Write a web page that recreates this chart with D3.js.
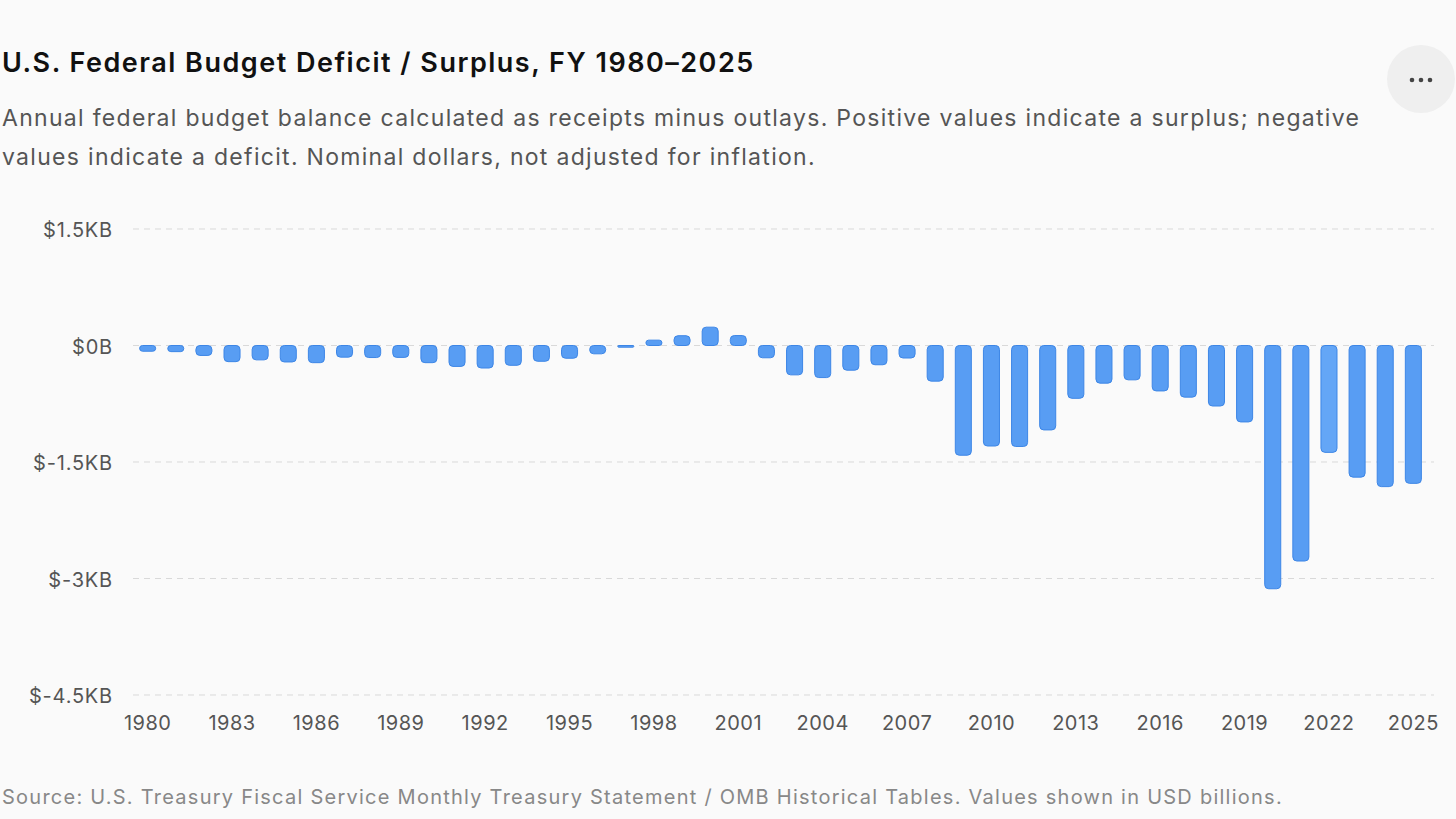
<!DOCTYPE html>
<html><head><meta charset="utf-8">
<script src="https://cdn.jsdelivr.net/npm/d3@7"></script>
<style>body{margin:0;background:#fafafa;font-family:Inter,"Noto Sans",sans-serif}</style>
</head><body><svg id="c" width="1456" height="819"></svg>
<script>
const years = d3.range(1980, 2026);
const balances = [-74,-79,-128,-208,-185,-212,-221,-150,-155,-153,-221,-269,-290,-255,-203,-164,-107,-22,69,126,236,128,-158,-378,-413,-318,-248,-161,-459,-1413,-1294,-1300,-1087,-680,-485,-442,-585,-665,-779,-984,-3132,-2775,-1376,-1695,-1817,-1775];
const yTicks = [1500,0,-1500,-3000,-4500];
const yTickLabels = ["$1.5KB","$0B","$-1.5KB","$-3KB","$-4.5KB"];
const xTickYears = d3.range(1980, 2026, 3);

const svg = d3.select("#c");
svg.append("rect").attr("width",1456).attr("height",819).attr("fill","#fafafa");
svg.append("text").attr("x",2).attr("y",72).attr("font-size",27).attr("font-weight",600).attr("letter-spacing",1.5).attr("fill","#111").text("U.S. Federal Budget Deficit / Surplus, FY 1980–2025");
svg.append("text").attr("x",2).attr("y",126).attr("font-size",23).attr("letter-spacing",1.3).attr("fill","#555").text("Annual federal budget balance calculated as receipts minus outlays. Positive values indicate a surplus; negative");
svg.append("text").attr("x",2).attr("y",165).attr("font-size",23).attr("letter-spacing",1.3).attr("fill","#555").text("values indicate a deficit. Nominal dollars, not adjusted for inflation.");
svg.append("text").attr("x",2).attr("y",804).attr("font-size",20).attr("letter-spacing",1.25).attr("fill","#888").text("Source: U.S. Treasury Fiscal Service Monthly Treasury Statement / OMB Historical Tables. Values shown in USD billions.");
svg.append("circle").attr("cx",1421).attr("cy",79).attr("r",34).attr("fill","#efefef");
[-9,0,9].forEach(d=>svg.append("circle").attr("cx",1421+d).attr("cy",80).attr("r",2.3).attr("fill","#444"));

const y = d3.scaleLinear().domain([-4500,1500]).range([695,229]);
const x = d3.scaleBand().domain(years).range([134,1427]).paddingInner(0.43).paddingOuter(0.2);

const g = svg.append("g");
yTicks.forEach((t,i)=>{
  g.append("line").attr("x1",133).attr("x2",1434).attr("y1",y(t)).attr("y2",y(t)).attr("stroke","#d9d9d9").attr("stroke-dasharray","6,5");
  g.append("text").attr("x",113).attr("y",y(t)+8).attr("text-anchor","end").attr("font-size",20).attr("letter-spacing",0.8).attr("fill","#555").text(yTickLabels[i]);
});
xTickYears.forEach(yr=>{
  g.append("text").attr("x",x(yr)+x.bandwidth()/2).attr("y",730).attr("text-anchor","middle").attr("font-size",20).attr("letter-spacing",0.5).attr("fill","#555").text(yr);
});
g.selectAll(".bar").data(years).join("rect")
  .attr("x",d=>x(d)).attr("width",x.bandwidth())
  .attr("y",(d,i)=>Math.min(y(0),y(balances[i])))
  .attr("height",(d,i)=>Math.max(1.5,Math.abs(y(balances[i])-y(0))))
  .attr("rx",(d,i)=>Math.min(4,Math.abs(y(balances[i])-y(0))/2)).attr("fill",(d)=>d===2022?"#64a6f6":"#589df3")
  .attr("stroke","#3d86e6").attr("stroke-width",1);
</script></body></html>
